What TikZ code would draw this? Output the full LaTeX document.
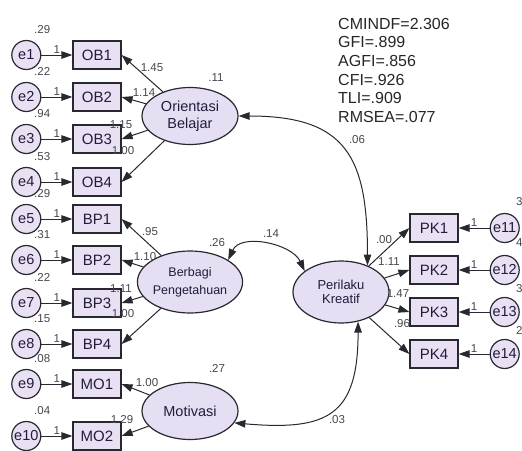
\documentclass[tikz,border=0pt]{standalone}
\usepackage{fontspec}
\setmainfont{Liberation Sans}
\usetikzlibrary{shapes.geometric, arrows.meta, positioning}
\usepackage{xcolor}
\definecolor{boxfill}{RGB}{233, 225, 243}
\definecolor{latfill}{RGB}{230, 222, 243}
\definecolor{linecol}{RGB}{40, 40, 48}
\definecolor{txtcol}{RGB}{34, 28, 60}
\definecolor{numcol}{RGB}{70, 70, 76}
\tikzstyle{indicator} = [rectangle, minimum width=48pt, minimum height=28pt, inner sep=0pt,
                         draw=linecol, line width=1.2pt, fill=boxfill, text=txtcol,
                         font=\fontsize{15}{15}\selectfont]
\tikzstyle{latent}    = [ellipse, minimum width=96pt, minimum height=57pt, inner sep=0pt,
                         draw=linecol, line width=1.2pt, fill=latfill, text=txtcol,
                         align=center, font=\fontsize{14.5}{17}\selectfont]
\tikzstyle{errvar}    = [circle, minimum size=29pt, inner sep=0pt, draw=linecol,
                         line width=1.2pt, fill=boxfill, text=txtcol,
                         font=\fontsize{14.5}{14.5}\selectfont]
\tikzstyle{num}       = [inner sep=0pt, text=numcol, font=\fontsize{11.5}{11.5}\selectfont]
\tikzstyle{fitnote}   = [inner sep=0pt, align=left, text=black!85,
                         font=\fontsize{16}{18.6}\selectfont]
\tikzstyle{arrow}     = [-{Triangle[length=11pt, width=7.5pt]}, line width=1pt, draw=linecol]
\tikzstyle{covarrow}  = [{Triangle[length=11pt, width=7.5pt]}-{Triangle[length=11pt, width=7.5pt]},
                         line width=1pt, draw=linecol]

\begin{document}
\begin{tikzpicture}[x=1pt, y=-1pt]
  \useasboundingbox (0,0) rectangle (522,450);

  \node (fit) [fitnote, anchor=north west] at (338,18)
        {CMINDF=2.306\\GFI=.899\\AGFI=.856\\CFI=.926\\TLI=.909\\RMSEA=.077};

  % latent variables
  \node (ob) [latent] at (190,116) {Orientasi\\Belajar};
  \node (bp) [latent, minimum height=62pt, font=\fontsize{12.5}{18}\selectfont] at (190,282) {Berbagi\\Pengetahuan};
  \node (mo) [latent] at (190,411) {Motivasi};
  \node (pk) [latent, minimum height=62pt, font=\fontsize{13}{14.5}\selectfont] at (341,292) {Perilaku\\Kreatif};

  \node (vob) [num] at (216,78)  {.11};
  \node (vbp) [num] at (217,243) {.26};
  \node (vmo) [num] at (217,368) {.27};

  % indicators
  \node (ob1) [indicator] at (97,55)  {OB1};
  \node (ob2) [indicator] at (97,97)  {OB2};
  \node (ob3) [indicator] at (97,139) {OB3};
  \node (ob4) [indicator] at (97,182) {OB4};
  \node (bp1) [indicator] at (97,219) {BP1};
  \node (bp2) [indicator] at (97,260) {BP2};
  \node (bp3) [indicator] at (97,303) {BP3};
  \node (bp4) [indicator] at (97,344) {BP4};
  \node (mo1) [indicator] at (97,384) {MO1};
  \node (mo2) [indicator] at (97,436) {MO2};
  \node (pk1) [indicator] at (434,228) {PK1};
  \node (pk2) [indicator] at (434,270) {PK2};
  \node (pk3) [indicator] at (434,312) {PK3};
  \node (pk4) [indicator] at (434,354) {PK4};

  % error terms
  \node (e1)  [errvar, left=31pt of ob1]  {e1};
  \node (e2)  [errvar, left=31pt of ob2]  {e2};
  \node (e3)  [errvar, left=31pt of ob3]  {e3};
  \node (e4)  [errvar, left=31pt of ob4]  {e4};
  \node (e5)  [errvar, left=31pt of bp1]  {e5};
  \node (e6)  [errvar, left=31pt of bp2]  {e6};
  \node (e7)  [errvar, left=31pt of bp3]  {e7};
  \node (e8)  [errvar, left=31pt of bp4]  {e8};
  \node (e9)  [errvar, left=31pt of mo1]  {e9};
  \node (e10) [errvar, left=31pt of mo2]  {e10};
  \node (e11) [errvar, right=31pt of pk1] {e11};
  \node (e12) [errvar, right=31pt of pk2] {e12};
  \node (e13) [errvar, right=31pt of pk3] {e13};
  \node (e14) [errvar, right=31pt of pk4] {e14};

  \node (ve1)  [num, above right=10.5pt and -3pt of e1]  {.29};
  \node (ve2)  [num, above right=10.5pt and -3pt of e2]  {.22};
  \node (ve3)  [num, above right=10.5pt and -3pt of e3]  {.94};
  \node (ve4)  [num, above right=10.5pt and -3pt of e4]  {.53};
  \node (ve5)  [num, above right=10.5pt and -3pt of e5]  {.29};
  \node (ve6)  [num, above right=10.5pt and -3pt of e6]  {.31};
  \node (ve7)  [num, above right=10.5pt and -3pt of e7]  {.22};
  \node (ve8)  [num, above right=10.5pt and -3pt of e8]  {.15};
  \node (ve9)  [num, above right=10.5pt and -3pt of e9]  {.08};
  \node (ve10) [num, above right=10.5pt and -3pt of e10] {.04};
  \node (ve11) [num, anchor=west] at (516,202) {3};
  \node (ve12) [num, anchor=west] at (516,243) {4};
  \node (ve13) [num, anchor=west] at (516,289) {3};
  \node (ve14) [num, anchor=west] at (516,330) {2};

  % error paths
  \draw [arrow] (e1)  -- node (w1)  [num, above=1.5pt] {1} (ob1);
  \draw [arrow] (e2)  -- node (w2)  [num, above=1.5pt] {1} (ob2);
  \draw [arrow] (e3)  -- node (w3)  [num, above=1.5pt] {1} (ob3);
  \draw [arrow] (e4)  -- node (w4)  [num, above=1.5pt] {1} (ob4);
  \draw [arrow] (e5)  -- node (w5)  [num, above=1.5pt] {1} (bp1);
  \draw [arrow] (e6)  -- node (w6)  [num, above=1.5pt] {1} (bp2);
  \draw [arrow] (e7)  -- node (w7)  [num, above=1.5pt] {1} (bp3);
  \draw [arrow] (e8)  -- node (w8)  [num, above=1.5pt] {1} (bp4);
  \draw [arrow] (e9)  -- node (w9)  [num, above=1.5pt] {1} (mo1);
  \draw [arrow] (e10) -- node (w10) [num, above=1.5pt] {1} (mo2);
  \draw [arrow] (e11) -- node (w11) [num, above=1.5pt] {1} (pk1);
  \draw [arrow] (e12) -- node (w12) [num, above=1.5pt] {1} (pk2);
  \draw [arrow] (e13) -- node (w13) [num, above=1.5pt] {1} (pk3);
  \draw [arrow] (e14) -- node (w14) [num, above=1.5pt] {1} (pk4);

  % loadings
  \draw [arrow] (ob) -- (ob1.east);
  \draw [arrow] (ob) -- (ob2.east);
  \draw [arrow] (ob) -- (ob3.east);
  \draw [arrow] (ob) -- (ob4.east);
  \draw [arrow] (bp) -- (bp1.east);
  \draw [arrow] (bp) -- (bp2.east);
  \draw [arrow] (bp) -- (bp3.east);
  \draw [arrow] (bp) -- (bp4.east);
  \draw [arrow] (mo) -- (mo1.east);
  \draw [arrow] (mo) -- (mo2.east);
  \draw [arrow] (pk) -- (pk1.west);
  \draw [arrow] (pk) -- (pk2.west);
  \draw [arrow] (pk) -- (pk3.west);
  \draw [arrow] (pk) -- (pk4.west);

  \node (lob1) [num] at (152,68)  {1.45};
  \node (lob2) [num] at (144,93)  {1.14};
  \node (lob3) [num] at (121,125) {1.15};
  \node (lob4) [num] at (123,151) {1.00};
  \node (lbp1) [num] at (150,232) {.95};
  \node (lbp2) [num] at (145,257) {1.10};
  \node (lbp3) [num] at (121,289) {1.11};
  \node (lbp4) [num] at (123,314) {1.00};
  \node (lmo1) [num] at (147,383) {1.00};
  \node (lmo2) [num] at (122,420) {1.29};
  \node (lpk1) [num] at (384,240) {.00};
  \node (lpk2) [num] at (389,262) {1.11};
  \node (lpk3) [num] at (398,294) {1.47};
  \node (lpk4) [num] at (402,324) {.96};

  % covariances
  \draw [covarrow] (ob.east) to[out=0, in=90, looseness=1.4] (pk.45);
  \draw [covarrow] (bp.30) to[out=65, in=115] (pk.150);
  \draw [covarrow] (mo.-15) to[out=-5, in=-90, looseness=1.5] (pk.-60);

  \node (cobpk) [num] at (357,140) {.06};
  \node (cbppk) [num] at (271,234) {.14};
  \node (cmopk) [num] at (337,420) {.03};
\end{tikzpicture}
\end{document}
